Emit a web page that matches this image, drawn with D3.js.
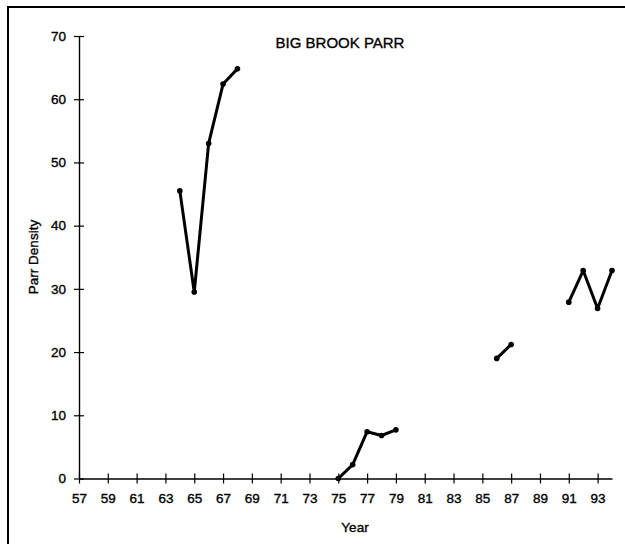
<!DOCTYPE html>
<html>
<head>
<meta charset="utf-8">
<script src="https://cdn.jsdelivr.net/npm/d3@7/dist/d3.min.js"></script>
<style>
  html, body { margin: 0; padding: 0; background: #fff; }
  svg { display: block; font-family: "Liberation Sans", Arial, Helvetica, sans-serif; }
  svg text { fill: #000; stroke: #000; stroke-width: 0.35px; }
</style>
</head>
<body>
<svg id="chart" width="625" height="544"></svg>
<script>
// Parr density surveys, Big Brook (gaps are years with no survey)
const segments = [
  { years: [64, 65, 66, 67, 68], density: [45.5, 29.5, 53.0, 62.4, 64.8] },
  { years: [75, 76, 77, 78, 79], density: [0.0, 2.2, 7.4, 6.8, 7.7] },
  { years: [86, 87], density: [19.0, 21.2] },
  { years: [91, 92, 93, 94], density: [27.9, 32.9, 26.9, 32.9] }
];
const xTickYears = d3.range(57, 94, 2);     // 57, 59, ... 93
const yTickValues = [0, 10, 20, 30, 40, 50, 60, 70];
const titleText = "BIG BROOK PARR";
const xAxisTitle = "Year";
const yAxisTitle = "Parr Density";

const svg = d3.select("#chart");

// outer frame (top and left edges)
svg.append("path")
  .attr("d", "M8,544 L8,7 L625,7")
  .attr("fill", "none")
  .attr("stroke", "#000")
  .attr("stroke-width", 2);

const x = d3.scaleLinear().domain([57, 94]).range([79, 612]);
const y = d3.scaleLinear().domain([0, 70]).range([478.5, 36]);

// y axis: ticks cross the axis line
const yAxis = svg.append("g").attr("transform", `translate(${x(57)},0)`)
  .call(d3.axisLeft(y).tickValues(yTickValues).tickSize(0).tickPadding(13));
yAxis.select(".domain").attr("stroke", "#000").attr("stroke-width", 1.4);
yAxis.selectAll(".tick").append("line")
  .attr("x1", -5).attr("x2", 5)
  .attr("stroke", "#000").attr("stroke-width", 1.2);
yAxis.selectAll("text").attr("font-size", 13.5);

// x axis
const xAxis = svg.append("g").attr("transform", `translate(0,${y(0)})`)
  .call(d3.axisBottom(x).tickValues(xTickYears).tickFormat(d3.format("d")).tickSize(0).tickPadding(15));
xAxis.select(".domain").attr("stroke", "#000").attr("stroke-width", 1.4);
xAxis.selectAll(".tick").append("line")
  .attr("y1", -5).attr("y2", 5)
  .attr("stroke", "#000").attr("stroke-width", 1.2);
xAxis.selectAll("text").attr("font-size", 13)
  .attr("textLength", 15).attr("lengthAdjust", "spacingAndGlyphs");

// title and axis titles
svg.append("text")
  .attr("x", 340).attr("y", 48)
  .attr("text-anchor", "middle")
  .attr("font-size", 15)
  .text(titleText);

svg.append("text")
  .attr("x", 355).attr("y", 532)
  .attr("text-anchor", "middle")
  .attr("font-size", 13.5)
  .text(xAxisTitle);

svg.append("text")
  .attr("transform", `translate(38,257) rotate(-90)`)
  .attr("text-anchor", "middle")
  .attr("font-size", 13.5)
  .text(yAxisTitle);

// data lines and markers
const line = d3.line().x(d => x(d[0])).y(d => y(d[1]));
const plot = svg.append("g");
segments.forEach(s => {
  const pts = s.years.map((yr, i) => [yr, s.density[i]]);
  plot.append("path")
    .attr("d", line(pts))
    .attr("fill", "none")
    .attr("stroke", "#000")
    .attr("stroke-width", 3)
    .attr("stroke-linejoin", "round");
  plot.selectAll(null).data(pts).enter().append("circle")
    .attr("cx", d => x(d[0]))
    .attr("cy", d => y(d[1]))
    .attr("r", 2.8)
    .attr("fill", "#000");
});
</script>
</body>
</html>
